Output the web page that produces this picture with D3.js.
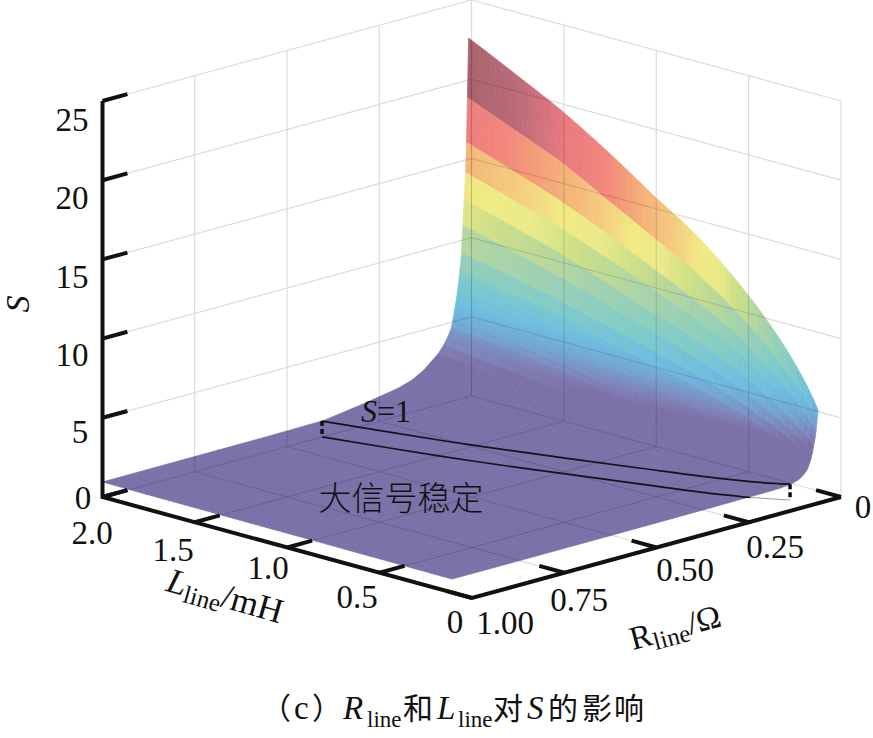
<!DOCTYPE html>
<html><head><meta charset="utf-8">
<style>html,body{margin:0;padding:0;background:#fff}svg{display:block}
text{font-family:"Liberation Serif","Noto Sans CJK SC",serif;fill:#111}</style>
<script src="https://cdn.jsdelivr.net/npm/d3@7/dist/d3.min.js"></script></head><body>
<svg id="c" width="873" height="738"></svg>
<script>
// Values
const lineL = [0.108,0.25,0.5,0.75,1,1.25,1.5,1.75,2];
const lineR = [0.008,0.011,0.0136,0.016,0.02,0.0235,0.027,0.031,0.033,0.035,0.0375,0.04,0.043,0.046,0.05,0.054,0.058,0.063,0.075,0.09,0.11,0.13,0.16,0.2,0.25,0.3,0.4,0.55,0.75,1];
const stability = [
 [5.2,8.0,11.4,14.0,15.9,17.9,19.7,21.2,22.65],
 [4.5,6.75,9.6,11.7,13.3,14.9,16.5,17.7,18.9],
 [3.9,5.8,8.3,10.0,11.4,12.8,14.05,15.1,16.1],
 [3.5,5.2,7.35,8.9,10.1,11.3,12.4,13.3,14.2],
 [3.0,4.4,6.3,7.65,8.7,9.8,10.85,11.7,12.5],
 [2.6,3.8,5.4,6.6,7.55,8.5,9.4,10.2,10.9],
 [2.25,3.25,4.6,5.6,6.4,7.2,7.95,8.6,9.2],
 [2.0,2.8,4.0,4.9,5.55,6.3,7.05,7.6,8.2],
 [1.87,2.65,3.75,4.6,5.27,5.97,6.67,7.25,7.8],
 [1.75,2.5,3.5,4.3,5.0,5.65,6.3,6.9,7.4],
 [1.65,2.32,3.25,4.02,4.65,5.3,5.9,6.45,6.95],
 [1.55,2.15,3.0,3.75,4.3,4.95,5.5,6.0,6.5],
 [1.47,2.02,2.82,3.5,4.02,4.62,5.15,5.62,6.1],
 [1.4,1.9,2.65,3.25,3.75,4.3,4.8,5.25,5.7],
 [1.32,1.75,2.42,2.95,3.42,3.9,4.37,4.8,5.2],
 [1.25,1.6,2.2,2.65,3.1,3.5,3.95,4.35,4.7],
 [1.18,1.5,2.05,2.47,2.9,3.3,3.72,4.1,4.45],
 [1.12,1.4,1.9,2.3,2.7,3.1,3.5,3.85,4.2],
 [1.03,1.23,1.6,1.95,2.3,2.65,3.0,3.35,3.7],
 [0.97,1.1,1.4,1.7,1.95,2.3,2.6,2.95,3.25],
 [0.93,1.02,1.2,1.45,1.65,1.95,2.25,2.55,2.85],
 [0.91,1.03,1.1,1.25,1.4,1.65,1.9,2.15,2.45],
 [0.9,0.97,1.05,1.12,1.2,1.35,1.6,1.85,2.05],
 [0.9,0.94,0.98,1.04,1.1,1.2,1.35,1.55,1.75],
 [0.89,0.92,0.95,0.97,1.01,1.06,1.18,1.35,1.55],
 [0.88,0.91,0.93,0.95,0.97,1.0,1.07,1.2,1.35],
 [0.87,0.9,0.91,0.93,0.94,0.95,0.97,0.99,1.01],
 [0.86,0.88,0.9,0.91,0.92,0.93,0.94,0.95,0.97],
 [0.85,0.87,0.89,0.9,0.91,0.92,0.93,0.94,0.96],
 [0.85,0.86,0.88,0.89,0.9,0.91,0.92,0.93,0.95]
];
const boundaryL = [2,1.49,1.21,0.67,0.43,0.24,0.108];
const boundaryR = [0.405,0.34,0.298,0.207,0.166,0.125,0.084];
const colorS = [0,3.2,3.7,4.3,5.0,6.2,8,10,12,13,14,15,16.5,18,19.5,21,23];
const colorV = ["#5b4e94","#5b4e94","#5f5ea0","#5a74b4","#5190c8","#4aaed9","#63c0ba","#8cc79a","#c2d86a","#e6e66c","#eee664","#f2c060","#f29b58","#f0685c","#e65a60","#ae4858","#8e3a44"];
const sTicks = [0,5,10,15,20,25];
const lTicks = [0,0.5,1,1.5,2];
const rTicks = [0,0.25,0.5,0.75,1];
const sLabels = [["0",83,498],["5",80,432],["10",72,355],["15",72,277],["20",72,198],["25",72,120]];
const lLabels = [["0",455,622],["0.5",357,597],["1.0",268,568],["1.5",173,550],["2.0",92,533]];
const rLabels = [["0",863,507],["0.25",775,547],["0.50",685,570],["0.75",579,600],["1.00",505,623]];

const svg = d3.select("#c");
const xL = d3.scaleLinear().domain([0,2]).range([0,-369.5]);
const yL = d3.scaleLinear().domain([0,2]).range([0,-101]);
const xR = d3.scaleLinear().domain([0,1]).range([0,-369]);
const yR = d3.scaleLinear().domain([0,1]).range([0,101]);
const yS = d3.scaleLinear().domain([0,25]).range([0,-396]);
const P = (L,R,S=0)=>[841+xL(L)+xR(R),497+yL(L)+yR(R)+yS(S)];
const color = d3.scaleLinear().domain(colorS).range(colorV).clamp(true);
const line = d3.line();

// grid: walls and floor
const gridSegments = [];
sTicks.slice(1).forEach(s=>{gridSegments.push([P(2,1,s),P(2,0,s)],[P(2,0,s),P(0,0,s)]);});
rTicks.slice(0,-1).forEach(r=>{gridSegments.push([P(2,r,0),P(2,r,25)],[P(0,r,0),P(2,r,0)]);});
lTicks.forEach(l=>{gridSegments.push([P(l,0,0),P(l,0,25)],[P(l,0,0),P(l,1,0)]);});
svg.append("g").attr("fill","none").attr("stroke","#dcdcdc").attr("stroke-width",1.2)
  .selectAll("path").data(gridSegments).join("path").attr("d",d=>line(d));

// surface
const gs = svg.append("g").attr("opacity",0.8);
const fineScale = d3.scaleLinear().domain([0,64]).range([lineL[0],2]);
const Lfine = d3.range(0,65).map(fineScale);
const rowS = stability.map(row=>d3.scaleSqrt().domain(lineL).range(row));
d3.range(lineR.length-1).forEach(j=>{
  Lfine.slice(0,-1).forEach((l,i)=>{
    const l2=Lfine[i+1], q=[P(l,lineR[j],rowS[j](l)),P(l2,lineR[j],rowS[j](l2)),P(l2,lineR[j+1],rowS[j+1](l2)),P(l,lineR[j+1],rowS[j+1](l))];
    const c=color(rowS[j]((l+l2)/2));
    gs.append("path").attr("d",line(q)+"Z").attr("fill",c).attr("stroke",c).attr("stroke-width",0.7);
  });
});

// grid seen through the surface
const last=lineR.length-1;
const outline=[
  ...Lfine.map(l=>P(l,lineR[0],rowS[0](l))),
  ...lineR.map((r,j)=>P(2,r,stability[j][8])),
  ...Lfine.slice().reverse().map(l=>P(l,lineR[last],rowS[last](l))),
  ...lineR.slice().reverse().map((r,k)=>P(lineL[0],r,stability[last-k][0]))
];
svg.append("clipPath").attr("id","surf").append("path").attr("d",line(outline)+"Z");
svg.append("g").attr("clip-path","url(#surf)").attr("fill","none").attr("stroke","#333").attr("stroke-opacity",0.13).attr("stroke-width",1.1)
  .selectAll("path").data(gridSegments).join("path").attr("d",d=>line(d));

// S=1 boundary
const curve = d3.line().curve(d3.curveCatmullRom);
const upper = boundaryL.map((l,i)=>P(l,boundaryR[i],1));
const lower = boundaryL.map((l,i)=>P(l,boundaryR[i],0));
svg.append("path").attr("d",curve(upper)).attr("fill","none").attr("stroke","#14121e").attr("stroke-width",1.7);
svg.append("path").attr("d",curve(lower.slice(0,6))).attr("fill","none").attr("stroke","#14121e").attr("stroke-width",1.7);
svg.append("path").attr("d",line(lower.slice(5))).attr("fill","none").attr("stroke","#999").attr("stroke-width",1);
[0,boundaryL.length-1].forEach(i=>{
  svg.append("path").attr("d",line([upper[i],lower[i]])).attr("fill","none").attr("stroke","#111").attr("stroke-width",3.5).attr("stroke-dasharray","5 3");
});

// axes
const ax = svg.append("g").attr("fill","none").attr("stroke","#111").attr("stroke-width",4);
ax.append("path").attr("d",line([P(2,1,25),P(2,1,0),P(0,1,0),P(0,0,0)])).attr("stroke-linejoin","miter");
const tickL=0.135, tickR=0.135;
sTicks.forEach(s=>ax.append("path").attr("d",line([P(2,1,s),P(2,1-tickR/2,s)])));
lTicks.slice(1).forEach(l=>ax.append("path").attr("d",line([P(l,1,0),P(l,1-tickR/2,0)])));
rTicks.forEach(r=>ax.append("path").attr("d",line([P(0,r,0),P(tickL,r,0)])));

// labels
const fs=33;
[...sLabels,...lLabels,...rLabels].forEach(d=>{
  svg.append("text").attr("x",d[1]).attr("y",d[2]).attr("text-anchor","middle").attr("dominant-baseline","central").attr("font-size",fs).text(d[0]);
});
svg.append("text").attr("transform","translate(29,304) rotate(-90)").attr("text-anchor","middle").attr("font-size",34).attr("font-style","italic").text("S");
const tl=svg.append("text").attr("transform","translate(222,607) rotate(16)").attr("text-anchor","middle").attr("font-size",35);
tl.append("tspan").attr("font-style","italic").text("L");
tl.append("tspan").attr("font-size",25).attr("dy",6).text("line");
tl.append("tspan").attr("dy",-6).text("/mH");
const tr=svg.append("text").attr("transform","translate(678,638) rotate(-15)").attr("text-anchor","middle").attr("font-size",33);
tr.append("tspan").text("R");
tr.append("tspan").attr("font-size",25).attr("dy",6).text("line");
tr.append("tspan").attr("dy",-6).text("/Ω");
const s1=svg.append("text").attr("x",361).attr("y",422).attr("font-size",32);
s1.append("tspan").attr("font-style","italic").text("S");
s1.append("tspan").text("=1");
svg.append("text").attr("x",401).attr("y",510).attr("text-anchor","middle").attr("font-size",33).attr("font-weight",300).attr("fill","#222").text("大信号稳定");
const cap=svg.append("text").attr("y",719).attr("font-size",30);
const capPart=(t,x,o={})=>{const s=cap.append("tspan").attr("x",x).attr("y",o.sub?727:719).text(t);
  if(o.it)s.attr("font-style","italic"); if(o.sub)s.attr("font-size",23); if(o.fs)s.attr("font-size",o.fs);};
capPart("（",261);
capPart("c",294,{fs:33});
capPart("）",312);
capPart("R",343,{it:1,fs:33});
capPart("line",367,{sub:1});
capPart("和",403);
capPart("L",437,{it:1,fs:33});
capPart("line",458,{sub:1});
capPart("对",493);
capPart("S",527,{it:1,fs:33});
capPart("的",548);
capPart("影",582);
capPart("响",614);
</script></body></html>
